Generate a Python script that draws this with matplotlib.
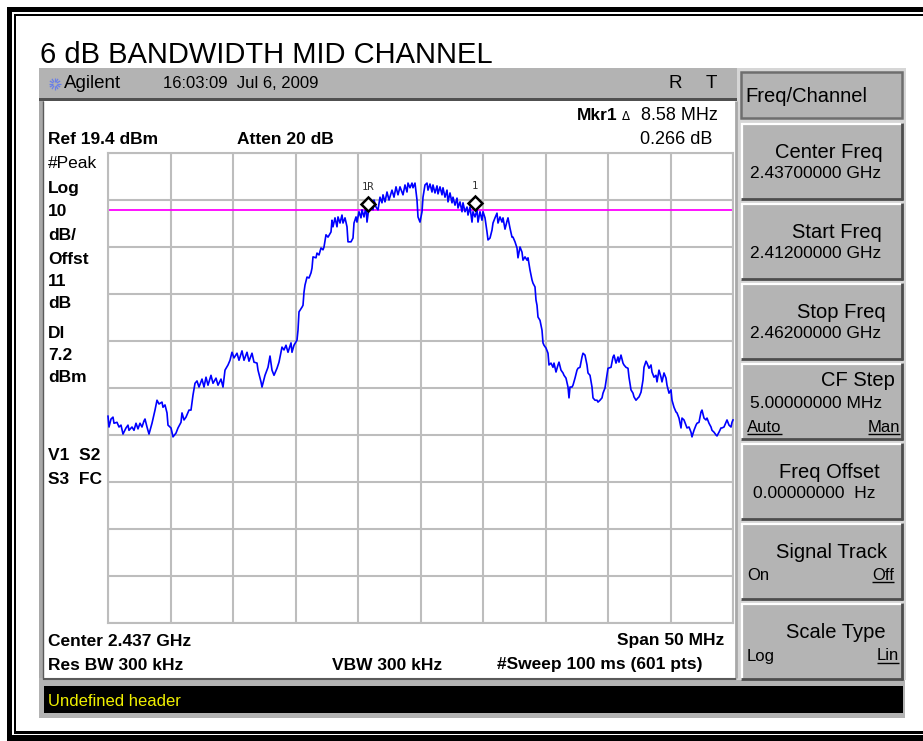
import matplotlib
matplotlib.use('Agg')
import matplotlib.pyplot as plt
from matplotlib.patches import Rectangle
import numpy as np

plt.rcParams['font.family'] = ['Liberation Sans', 'DejaVu Sans']

# ---------------- data ----------------
start_freq_mhz = 2412.0
span_mhz = 50.0
ref_level_dbm = 19.4
db_per_div = 10
display_line_dbm = 7.2

# sweep position relative to start frequency (MHz)
trace_offset_mhz = [
    0.00, 0.08, 0.24, 0.40, 0.48, 0.72, 0.88, 1.04, 1.20, 1.44,
    1.60, 1.68, 1.92, 2.08, 2.24, 2.40, 2.56, 2.72, 2.88, 2.96,
    3.12, 3.28, 3.52, 3.76, 3.92, 4.08, 4.32, 4.40, 4.56, 4.72,
    4.80, 5.04, 5.20, 5.44, 5.60, 5.84, 5.92, 6.08, 6.24, 6.48,
    6.64, 6.80, 6.96, 7.12, 7.28, 7.52, 7.68, 7.84, 8.00, 8.24,
    8.40, 8.64, 8.80, 9.04, 9.20, 9.36, 9.60, 9.76, 9.92, 10.08,
    10.32, 10.48, 10.72, 10.88, 11.12, 11.28, 11.52, 11.68, 11.92, 12.00,
    12.24, 12.32, 12.56, 12.80, 12.96, 13.12, 13.28, 13.52, 13.68, 13.92,
    14.08, 14.24, 14.40, 14.64, 14.72, 14.88, 15.12, 15.20, 15.28, 15.52,
    15.60, 15.68, 15.76, 15.92, 16.08, 16.24, 16.32, 16.40, 16.64, 16.72,
    16.88, 17.04, 17.20, 17.28, 17.44, 17.60, 17.84, 17.92, 18.00, 18.16,
    18.32, 18.40, 18.56, 18.72, 18.80, 18.96, 19.12, 19.20, 19.44, 19.60,
    19.68, 19.84, 19.92, 20.08, 20.24, 20.32, 20.48, 20.64, 20.72, 20.88,
    21.04, 21.20, 21.28, 21.44, 21.60, 21.76, 21.92, 22.00, 22.16, 22.32,
    22.48, 22.72, 22.88, 23.04, 23.20, 23.36, 23.52, 23.60, 23.76, 23.92,
    24.00, 24.16, 24.32, 24.40, 24.56, 24.72, 24.80, 24.96, 25.12, 25.20,
    25.36, 25.52, 25.60, 25.76, 25.92, 26.00, 26.16, 26.32, 26.40, 26.56,
    26.72, 26.80, 26.96, 27.12, 27.20, 27.36, 27.52, 27.60, 27.76, 27.92,
    28.00, 28.16, 28.32, 28.40, 28.56, 28.72, 28.80, 28.96, 29.12, 29.20,
    29.36, 29.52, 29.60, 29.76, 29.92, 30.00, 30.16, 30.32, 30.40, 30.56,
    30.72, 30.80, 30.96, 31.12, 31.20, 31.36, 31.52, 31.60, 31.76, 31.92,
    32.00, 32.16, 32.32, 32.40, 32.56, 32.72, 32.80, 32.96, 33.12, 33.20,
    33.36, 33.52, 33.60, 33.76, 33.92, 34.00, 34.16, 34.24, 34.32, 34.40,
    34.56, 34.72, 34.80, 34.88, 35.04, 35.20, 35.28, 35.44, 35.60, 35.68,
    35.84, 36.00, 36.08, 36.24, 36.40, 36.48, 36.64, 36.80, 36.88, 36.96,
    37.12, 37.20, 37.36, 37.52, 37.60, 37.76, 37.92, 38.00, 38.16, 38.32,
    38.40, 38.56, 38.72, 38.80, 38.96, 39.12, 39.20, 39.36, 39.52, 39.60,
    39.76, 39.92, 40.00, 40.24, 40.40, 40.48, 40.64, 40.80, 40.88, 41.04,
    41.20, 41.28, 41.44, 41.60, 41.68, 41.84, 42.00, 42.08, 42.24, 42.40,
    42.48, 42.64, 42.80, 42.88, 43.04, 43.12, 43.28, 43.44, 43.52, 43.68,
    43.84, 43.92, 44.08, 44.24, 44.32, 44.48, 44.64, 44.72, 44.88, 45.04,
    45.12, 45.28, 45.44, 45.52, 45.68, 45.84, 45.92, 46.08, 46.24, 46.32,
    46.48, 46.64, 46.72, 46.88, 47.04, 47.12, 47.28, 47.44, 47.52, 47.68,
    47.84, 47.92, 48.08, 48.24, 48.32, 48.48, 48.64, 48.72, 48.88, 49.04,
    49.12, 49.28, 49.44, 49.52, 49.68, 49.84, 49.92, 50.00,
]

trace_level_dbm = [
    -36.6, -38.9, -37.2, -36.8, -38.1, -37.9, -38.9, -38.5, -40.4, -39.1,
    -38.5, -39.6, -38.9, -39.6, -38.1, -39.3, -38.1, -38.9, -37.6, -37.2,
    -38.9, -40.4, -38.1, -35.3, -33.2, -34.0, -33.6, -34.7, -34.2, -35.9,
    -38.5, -39.1, -41.0, -40.2, -39.1, -37.9, -35.9, -37.4, -36.8, -35.3,
    -35.3, -32.1, -29.6, -29.1, -30.4, -28.7, -30.4, -28.3, -30.0, -27.9,
    -29.6, -28.5, -30.0, -28.7, -30.4, -26.8, -25.7, -24.7, -23.0, -24.2,
    -23.2, -24.7, -22.7, -24.7, -23.0, -24.9, -23.2, -25.1, -25.3, -26.8,
    -29.3, -30.4, -27.9, -26.2, -23.8, -26.8, -27.9, -26.4, -25.1, -21.9,
    -22.5, -21.5, -23.0, -21.0, -23.0, -21.5, -20.4, -18.3, -14.4, -13.4,
    -13.0, -10.2, -8.7, -7.0, -7.2, -6.1, -5.1, -2.7, -2.9, -1.9,
    -2.3, -0.8, -1.2, -0.6, 2.0, 1.5, 2.6, 5.1, 3.7, 5.6,
    3.7, 5.8, 4.5, 6.2, 4.5, 5.6, 3.7, 0.5, 0.5, 1.3,
    4.5, 5.8, 4.7, 6.9, 5.6, 7.3, 5.8, 7.9, 4.7, 7.9,
    8.8, 7.3, 9.4, 7.9, 7.3, 10.0, 8.8, 10.5, 9.0, 11.1,
    9.4, 11.5, 10.0, 12.2, 10.5, 12.2, 11.1, 10.5, 12.6, 11.1,
    13.0, 12.0, 13.0, 12.0, 13.0, 9.4, 5.8, 4.7, 6.9, 10.0,
    12.6, 13.0, 11.5, 12.8, 11.1, 12.6, 10.9, 12.4, 10.7, 12.2,
    10.5, 12.0, 10.0, 11.5, 9.0, 10.9, 8.8, 10.0, 8.3, 9.8,
    7.7, 9.0, 6.9, 8.8, 6.9, 7.9, 6.2, 7.9, 4.7, 6.9,
    5.8, 7.3, 4.7, 6.9, 5.1, 6.9, 5.6, 2.6, 0.9, 1.3,
    3.0, 4.5, 5.6, 6.6, 4.5, 5.8, 4.7, 5.6, 3.2, 4.9,
    5.6, 3.4, 1.5, 1.5, 0.5, -0.8, -2.9, -0.6, -1.7, -3.4,
    -2.7, -3.4, -2.9, -5.5, -7.6, -8.3, -9.1, -11.9, -13.0, -15.5,
    -16.2, -18.3, -21.0, -21.5, -22.1, -23.2, -25.7, -25.3, -26.2, -25.3,
    -27.2, -25.7, -25.1, -26.8, -27.4, -27.9, -28.5, -30.4, -32.7, -30.4,
    -30.4, -30.0, -28.5, -26.8, -26.4, -26.2, -24.0, -23.2, -23.6, -25.7,
    -27.4, -27.9, -30.4, -32.7, -33.2, -33.2, -33.6, -33.2, -32.7, -31.7,
    -30.6, -27.9, -26.4, -26.2, -24.0, -23.6, -25.3, -24.0, -25.1, -23.6,
    -25.3, -25.7, -26.2, -26.4, -28.3, -31.0, -31.7, -32.5, -33.2, -32.7,
    -32.5, -31.5, -28.9, -26.2, -24.9, -25.3, -26.4, -25.7, -27.2, -28.3,
    -27.9, -29.3, -26.8, -28.3, -29.3, -27.4, -28.5, -30.0, -31.7, -31.0,
    -33.2, -34.7, -35.7, -35.9, -37.0, -39.1, -37.0, -37.4, -38.5, -39.1,
    -38.9, -40.0, -41.0, -39.6, -38.5, -38.1, -37.9, -35.7, -35.3, -37.0,
    -37.4, -37.0, -38.1, -38.9, -39.6, -40.0, -40.6, -40.8, -40.0, -39.1,
    -39.1, -38.9, -37.9, -37.4, -38.5, -38.9, -37.9, -37.4,
]

marker_labels = ['1R', '1']
marker_offset_mhz = [20.80, 29.38]
marker_level_dbm = [8.55, 8.82]

left_annotations = [('#Peak', 163, 'normal'), ('Log', 188, 'bold'), ('10', 211, 'bold'),
                    ('dB/', 236, 'bold'), ('Offst', 260, 'bold'), ('11', 282, 'bold'),
                    ('dB', 304, 'bold'), ('Dl', 333, 'bold'), ('7.2', 355, 'bold'),
                    ('dBm', 378, 'bold'), ('V1  S2', 456, 'bold'), ('S3  FC', 480, 'bold')]

softkeys = [('Center Freq', 883, '2.43700000 GHz'),
            ('Start Freq', 882, '2.41200000 GHz'),
            ('Stop Freq', 886, '2.46200000 GHz'),
            ('CF Step', 895, '5.00000000 MHz'),
            ('Freq Offset', 880, '0.00000000  Hz'),
            ('Signal Track', 887, None),
            ('Scale Type', 886, None)]

# ---------------- figure ----------------
W, H = 923, 741
fig = plt.figure(figsize=(W / 100, H / 100), dpi=100)
bg = fig.add_axes([0, 0, 1, 1])
bg.set_xlim(0, W)
bg.set_ylim(H, 0)
bg.axis('off')


def rect(x0, y0, x1, y1, fc, ec='none', lw=0, z=1):
    bg.add_patch(Rectangle((x0, y0), x1 - x0, y1 - y0, facecolor=fc,
                           edgecolor=ec, linewidth=lw, zorder=z))


def line(xs, ys, c, lw, z=2):
    bg.plot(xs, ys, color=c, lw=lw, zorder=z, solid_capstyle='butt')


def txt(x, y, s, size, ha='left', weight='normal', color='black', va='center', z=5, **kw):
    return bg.text(x, y, s, fontsize=size, ha=ha, va=va, fontweight=weight,
                   color=color, zorder=z, **kw)


# outer double border
rect(7, 7, W, 12, 'black')
rect(7, 7, 12, H, 'black')
rect(13.5, 13.5, W, 16, 'black')
rect(13.5, 13.5, 16, 733.5, 'black')
rect(13.5, 731, W, 733.5, 'black')
rect(7, 735, W, H, 'black')

# title
txt(40, 63, '6 dB BANDWIDTH MID CHANNEL', 21, va='baseline')

# analyzer screen
rect(39, 68, 738, 98, '#b3b3b3')
rect(39, 98, 738, 101, '#505050')
rect(39, 101, 44, 680, '#a9a9a9')
line([43, 43], [101, 679], '#5a5a5a', 1)
rect(44, 101, 736, 678, 'white')
line([735.5, 735.5], [101, 678], '#a8a8a8', 2)
rect(39, 678, 905, 718, '#b3b3b3')
line([43, 736], [679, 679], '#5a5a5a', 1.5)
rect(44, 686, 903, 713, 'black')

# Agilent spark logo
for ang in np.arange(0, 360, 30):
    a = np.radians(ang)
    line([55 + 2 * np.cos(a), 55 + 6 * np.cos(a)], [84 + 2 * np.sin(a), 84 + 6 * np.sin(a)],
         '#6a7ee8', 0.9, z=3)
txt(64, 84, 'Agilent', 13.5)
txt(163, 84, '16:03:09  Jul 6, 2009', 12)
txt(668, 84, 'R', 13.5)
txt(706, 84, 'T', 13.5)

# right soft-key panel
rect(737, 68, 906, 680, '#d6d6d6')
rect(741, 72, 902, 118, '#b4b4b4', ec='#6e6e6e', lw=1.8)
txt(745, 96, 'Freq/Channel', 14.5)
tops = [123, 203, 283, 363, 443, 523, 603]
for (label, rx, val), t in zip(softkeys, tops):
    b = t + 77
    rect(741, t, 903, b, '#b4b4b4')
    line([741, 903], [t + 0.8, t + 0.8], 'white', 1.6)
    line([741.8, 741.8], [t, b], 'white', 1.6)
    line([741, 903], [b - 1, b - 1], '#4d4d4d', 2)
    line([902, 902], [t, b], '#4d4d4d', 2)
    if label == 'CF Step':
        txt(rx, t + 18, label, 14.5, ha='right')
        txt(750, t + 41, val, 12.5)
    else:
        txt(rx, t + 29, label, 14.5, ha='right')
        if val is not None:
            txt(750 if label != 'Freq Offset' else 753, t + 51, val, 12.5)

underlined = []
underlined.append(txt(747, 427, 'Auto', 12))
underlined.append(txt(900, 427, 'Man', 12, ha='right'))
txt(747, 575, 'On', 12)
underlined.append(txt(894, 575, 'Off', 12, ha='right'))
txt(747, 656, 'Log', 12)
underlined.append(txt(899, 656, 'Lin', 12, ha='right'))

# screen annotations
txt(577, 116, 'Mkr1', 12.5, weight='bold')
txt(622, 117, '\u0394', 8.5, family='DejaVu Sans')
txt(718, 116, '8.58 MHz', 13, ha='right')
txt(712, 140, '0.266 dB', 13, ha='right')
txt(48, 140, 'Ref 19.4 dBm', 12.5, weight='bold')
txt(237, 140, 'Atten 20 dB', 12.5, weight='bold')
for s, y, w in left_annotations:
    txt(48, y, s, 12.5, weight=w)
txt(48, 641, 'Center 2.437 GHz', 12.5, weight='bold')
txt(724, 641, 'Span 50 MHz', 12.5, weight='bold', ha='right')
txt(48, 665, 'Res BW 300 kHz', 12.5, weight='bold')
txt(332, 665, 'VBW 300 kHz', 12.5, weight='bold')
txt(497, 665, '#Sweep 100 ms (601 pts)', 12.5, weight='bold')
txt(48, 701, 'Undefined header', 12, color='#f0f000')

# ---------------- graticule / trace ----------------
gx0, gx1, gy0, gy1 = 108, 733, 153, 623
ax = fig.add_axes([gx0 / W, 1 - gy1 / H, (gx1 - gx0) / W, (gy1 - gy0) / H])
ax.set_facecolor('none')
ax.set_zorder(3)
ax.set_xlim(start_freq_mhz, start_freq_mhz + span_mhz)
ax.set_ylim(ref_level_dbm - 10 * db_per_div, ref_level_dbm)
ax.set_xticks(start_freq_mhz + np.arange(0, span_mhz + 0.1, span_mhz / 10))
ax.set_yticks(ref_level_dbm - db_per_div * np.arange(11))
ax.tick_params(length=0, labelbottom=False, labelleft=False)
ax.grid(True, color='#bdbdbd', lw=1.5)
ax.set_axisbelow(True)
for sp in ax.spines.values():
    sp.set_color('#bdbdbd')
    sp.set_linewidth(1.5)

freqs = [start_freq_mhz + f for f in trace_offset_mhz]
ax.axhline(display_line_dbm, color='#ff00ff', lw=1.3, zorder=2)
ax.plot(freqs, trace_level_dbm, color='#0000ff', lw=1.2, zorder=3, clip_on=False)
mf = [start_freq_mhz + f for f in marker_offset_mhz]
ax.plot(mf, marker_level_dbm, ls='none', marker='D', ms=7.5, mfc='white',
        mec='black', mew=1.8, zorder=4)
for lbl, f, l in zip(marker_labels, mf, marker_level_dbm):
    ax.annotate(lbl, (f, l), xytext=(0, 12), textcoords='offset points', ha='center',
                va='center', fontsize=7.5, color='#333333', family='DejaVu Sans Mono')

# underline selected soft-key options
fig.canvas.draw()
r = fig.canvas.get_renderer()
inv = bg.transData.inverted()
for t in underlined:
    bb = t.get_window_extent(r)
    (xa, ya), (xb, yb) = inv.transform([[bb.x0, bb.y0], [bb.x1, bb.y1]])
    line([xa, xb], [ya - 1, ya - 1], 'black', 1.0, z=6)

fig.savefig('out.png', dpi=100)
